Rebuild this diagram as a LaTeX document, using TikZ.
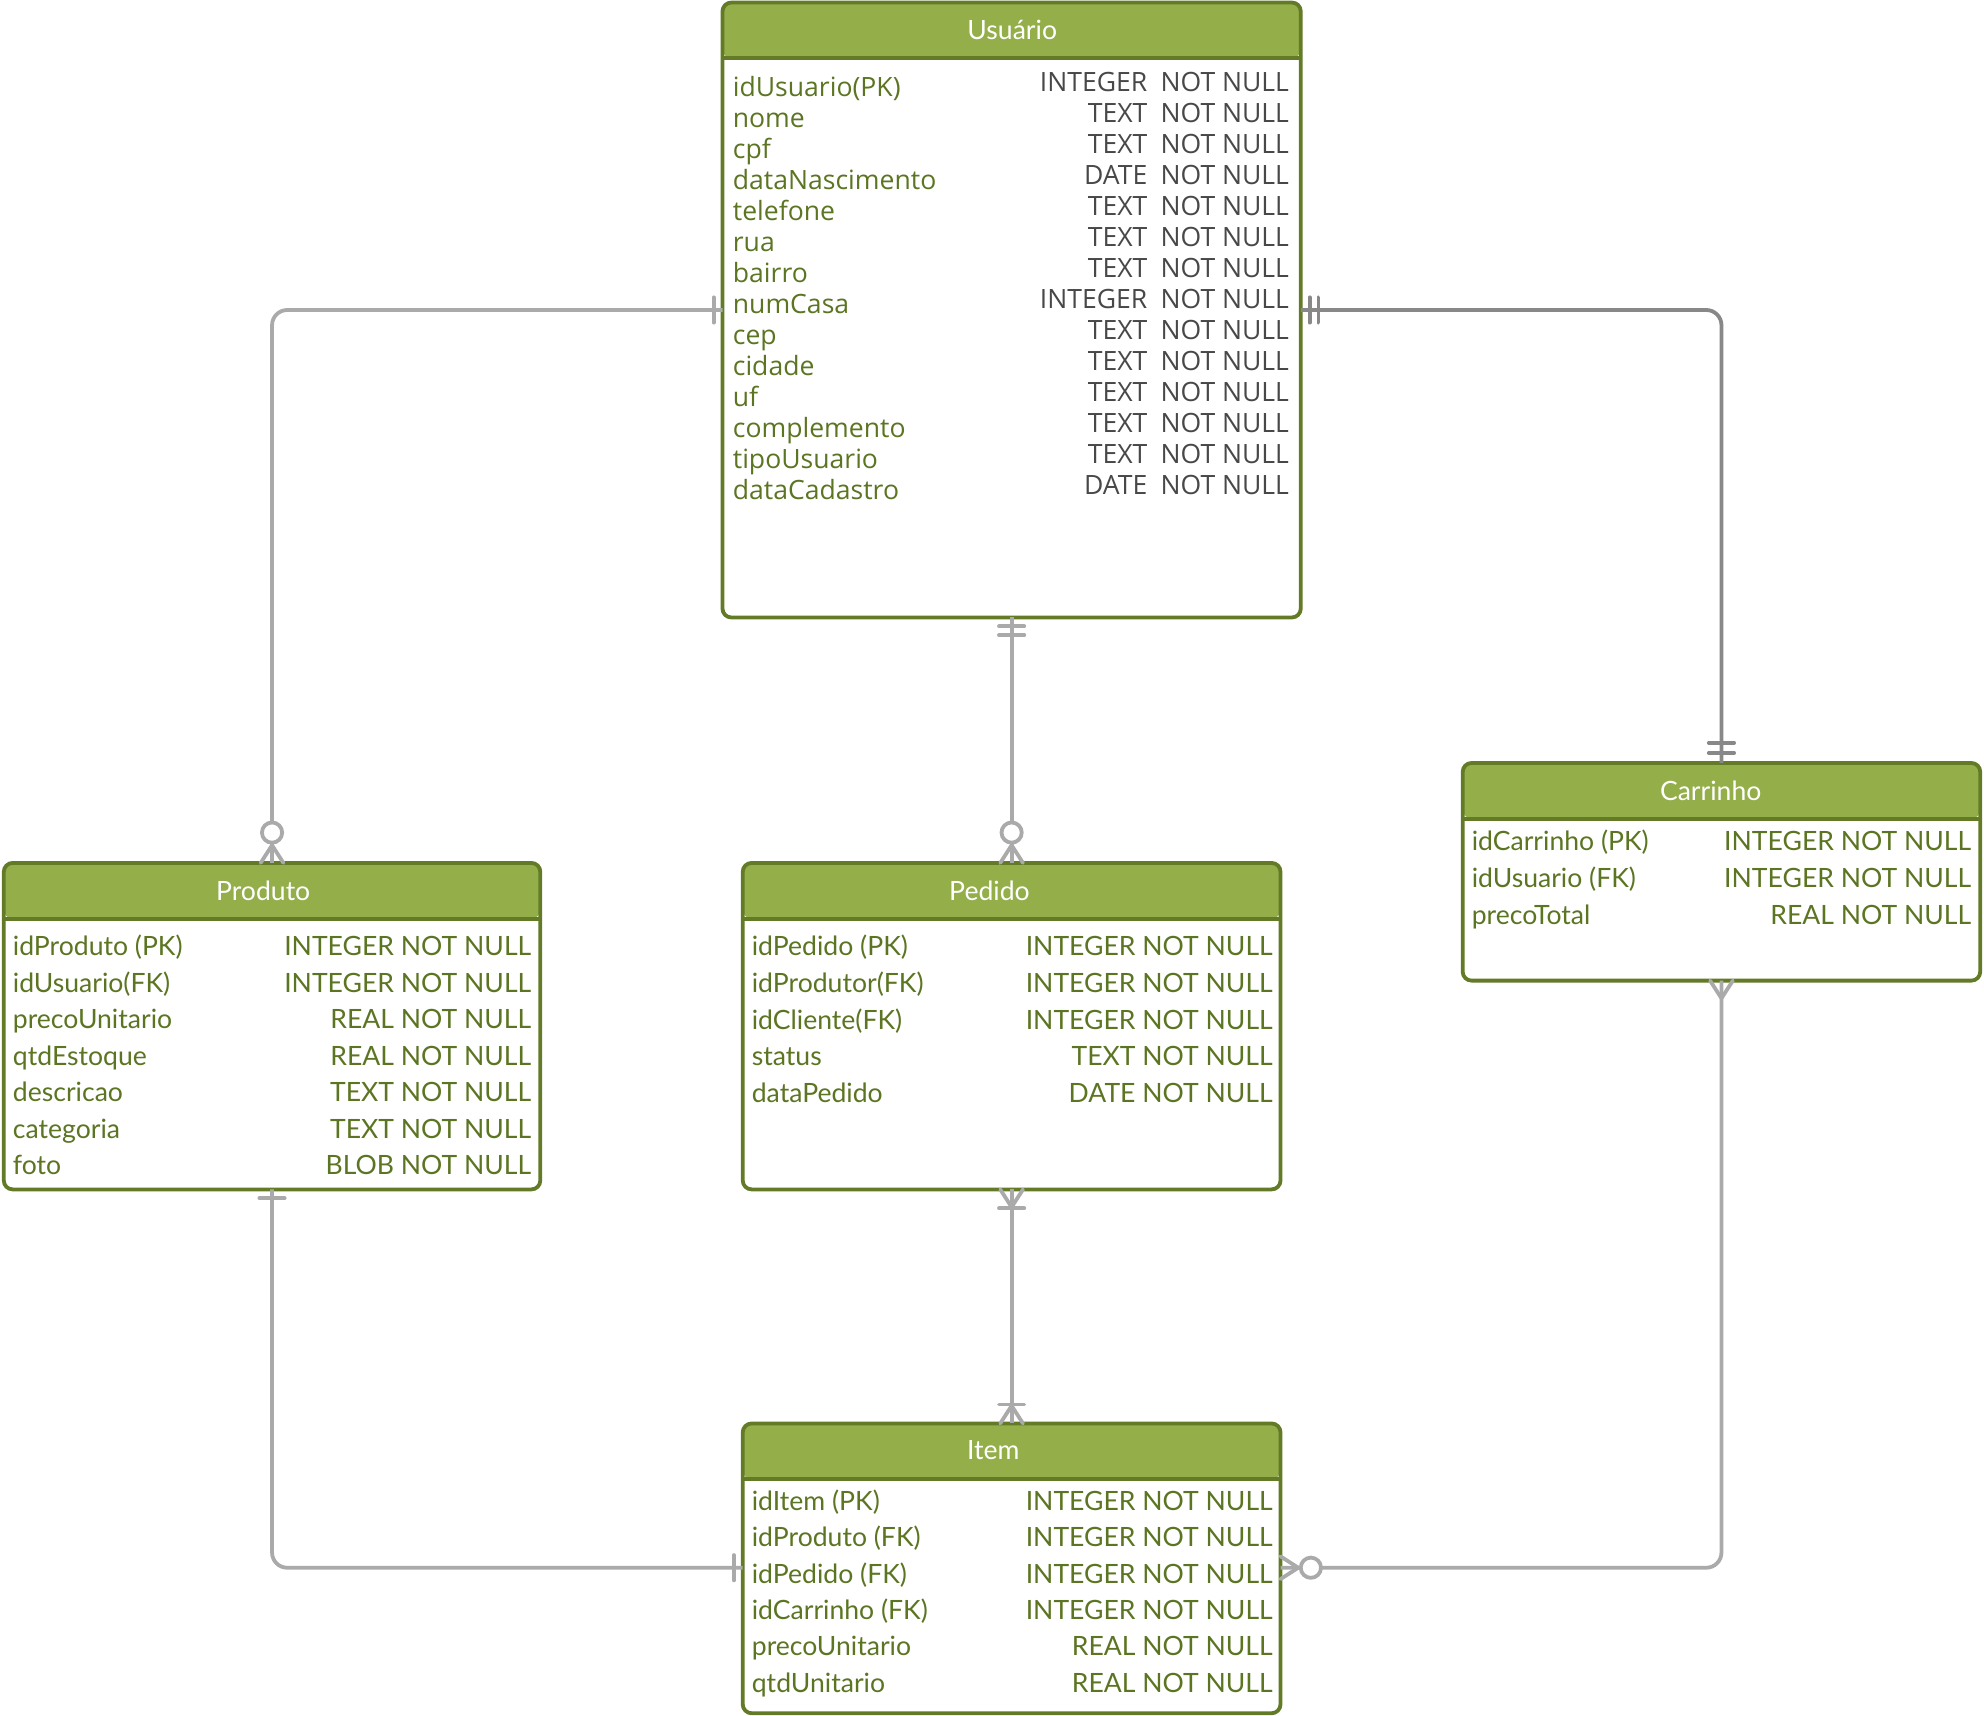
\documentclass[tikz,border=0pt]{standalone}
\usepackage{fontspec}
\setmainfont{Lato}
\newfontfamily\osans{Open Sans}
\usetikzlibrary{calc}
\definecolor{hdr}{RGB}{148,174,74}
\definecolor{bord}{RGB}{99,122,38}
\definecolor{txtg}{RGB}{92,117,34}
\definecolor{txtk}{RGB}{72,72,72}
\definecolor{lnk}{RGB}{170,170,170}
\definecolor{lnkd}{RGB}{136,136,136}
\tikzset{
 tbl/.style={draw=bord, line width=3pt, fill=white, rounded corners=7pt, anchor=north west, inner sep=0pt, outer sep=0pt,
   path picture={\fill[hdr] (path picture bounding box.north west) rectangle ([yshift=-44pt]path picture bounding box.north east);
     \draw[bord, line width=3pt] ([yshift=-44pt]path picture bounding box.north west) -- ([yshift=-44pt]path picture bounding box.north east);}},
 ttl/.style={text=white, font=\fontsize{21}{25}\selectfont, inner sep=0pt},
 fname/.style={text=txtg, font=\fontsize{21}{25}\selectfont, anchor=base west, inner sep=0pt},
 ftype/.style={text=txtg, font=\fontsize{21}{25}\selectfont, anchor=base east, inner sep=0pt},
 uname/.style={text=txtg, font=\osans\fontsize{21}{25}\selectfont, anchor=base west, inner sep=0pt},
 utype/.style={text=txtk, font=\osans\fontsize{21}{25}\selectfont, anchor=base east, inner sep=0pt},
 unn/.style={text=txtk, font=\osans\fontsize{21}{25}\selectfont, anchor=base west, inner sep=0pt},
 conn/.style={draw=lnk, line width=3pt, rounded corners=12pt},
 mk/.style={draw=lnk, line width=3pt, line cap=round, line join=round},
}
\newcommand\mkbar[4]{\begin{scope}[shift={(#2)},rotate=#3]\draw[mk,draw=#1] (#4pt,-10pt) -- (#4pt,10pt);\end{scope}}
\newcommand\mkcrow[2]{\begin{scope}[shift={(#1)},rotate=#2]\draw[mk] (0pt,-9pt) -- (14pt,0pt) -- (0pt,9pt);\end{scope}}
\newcommand\mkcirc[2]{\begin{scope}[shift={(#1)},rotate=#2]\draw[mk,fill=white] (24pt,0pt) circle[radius=8pt];\end{scope}}
\begin{document}
\begin{tikzpicture}[x=1pt,y=-1pt]
\useasboundingbox (0,0) rectangle (1568,1356);
% tables
\node[tbl, minimum width=457pt, minimum height=486pt] (usuario) at (571,2) {};
\node[tbl, minimum width=424pt, minimum height=258pt] (produto) at (3,682) {};
\node[tbl, minimum width=425pt, minimum height=258pt] (pedido) at (587,682) {};
\node[tbl, minimum width=409pt, minimum height=172pt] (carrinho) at (1156,603) {};
\node[tbl, minimum width=425pt, minimum height=229pt] (item) at (587,1125) {};
% titles
\node[ttl] (tusuario) at (800,24) {Usuário};
\node[ttl] (tproduto) at (208,704) {Produto};
\node[ttl] (tpedido) at (782,704) {Pedido};
\node[ttl] (tcarrinho) at (1352,625) {Carrinho};
\node[ttl] (titem) at (785,1146) {Item};
% Usuario rows
\foreach \n [count=\i from 0] in {idUsuario(PK),nome,cpf,dataNascimento,telefone,rua,bairro,numCasa,cep,cidade,uf,complemento,tipoUsuario,dataCadastro}
  \node[uname] (un\i) at (579,{76.5+24.46*\i}) {\n};
\foreach \t [count=\i from 0] in {INTEGER,TEXT,TEXT,DATE,TEXT,TEXT,TEXT,INTEGER,TEXT,TEXT,TEXT,TEXT,TEXT,DATE}{
  \node[utype] (ut\i) at (907,{72.5+24.46*\i}) {\t};
  \node[unn] (unn\i) at (917,{72.5+24.46*\i}) {NOT NULL};}
% Produto rows
\foreach \n/\t [count=\i from 0] in {idProduto (PK)/INTEGER NOT NULL,idUsuario(FK)/INTEGER NOT NULL,precoUnitario/REAL NOT NULL,qtdEstoque/REAL NOT NULL,descricao/TEXT NOT NULL,categoria/TEXT NOT NULL,foto/BLOB NOT NULL}{
  \node[fname] (pn\i) at (10,{755.5+28.8*\i}) {\n};
  \node[ftype] (pt\i) at (420,{755.5+28.8*\i}) {\t};}
% Pedido rows
\foreach \n/\t [count=\i from 0] in {idPedido (PK)/INTEGER NOT NULL,idProdutor(FK)/INTEGER NOT NULL,idCliente(FK)/INTEGER NOT NULL,status/TEXT NOT NULL,dataPedido/DATE NOT NULL}{
  \node[fname] (dn\i) at (594,{755.5+28.9*\i}) {\n};
  \node[ftype] (dt\i) at (1006,{755.5+28.9*\i}) {\t};}
% Carrinho rows
\foreach \n/\t [count=\i from 0] in {idCarrinho (PK)/INTEGER NOT NULL,idUsuario (FK)/INTEGER NOT NULL,precoTotal/REAL NOT NULL}{
  \node[fname] (cn\i) at (1163,{672.5+29*\i}) {\n};
  \node[ftype] (ct\i) at (1558,{672.5+29*\i}) {\t};}
% Item rows
\foreach \n/\t [count=\i from 0] in {idItem (PK)/INTEGER NOT NULL,idProduto (FK)/INTEGER NOT NULL,idPedido (FK)/INTEGER NOT NULL,idCarrinho (FK)/INTEGER NOT NULL,precoUnitario/REAL NOT NULL,qtdUnitario/REAL NOT NULL}{
  \node[fname] (in\i) at (594,{1193.5+28.8*\i}) {\n};
  \node[ftype] (it\i) at (1006,{1193.5+28.8*\i}) {\t};}
% connector anchor points
\coordinate (yu) at (0,245);
\coordinate (yi) at (0,1239);
\coordinate (uw) at (usuario.west |- yu);
\coordinate (ue) at (usuario.east |- yu);
\coordinate (iw) at (item.west |- yi);
\coordinate (ie) at (item.east |- yi);
% connectors
\draw[conn] (uw) -| (produto.north);
\draw[conn] (usuario.south) -- (pedido.north);
\draw[conn, draw=lnkd] (ue) -| (carrinho.north);
\draw[conn] (pedido.south) -- (item.north);
\draw[conn] (produto.south) |- (iw);
\draw[conn] (carrinho.south) |- (ie);
% cardinality marks
\mkbar{lnk}{uw}{180}{7}
\mkcrow{produto.north}{90}\mkcirc{produto.north}{90}
\mkbar{lnk}{usuario.south}{-90}{7}\mkbar{lnk}{usuario.south}{-90}{14}
\mkcrow{pedido.north}{90}\mkcirc{pedido.north}{90}
\mkbar{lnkd}{ue}{0}{7}\mkbar{lnkd}{ue}{0}{14}
\mkbar{lnkd}{carrinho.north}{90}{8}\mkbar{lnkd}{carrinho.north}{90}{16}
\mkcrow{pedido.south}{-90}\mkbar{lnk}{pedido.south}{-90}{15}
\mkcrow{item.north}{90}\mkbar{lnk}{item.north}{90}{15}
\mkbar{lnk}{produto.south}{-90}{7}
\mkbar{lnk}{iw}{180}{7}
\mkcrow{carrinho.south}{-90}
\mkcrow{ie}{0}\mkcirc{ie}{0}
\end{tikzpicture}
\end{document}
